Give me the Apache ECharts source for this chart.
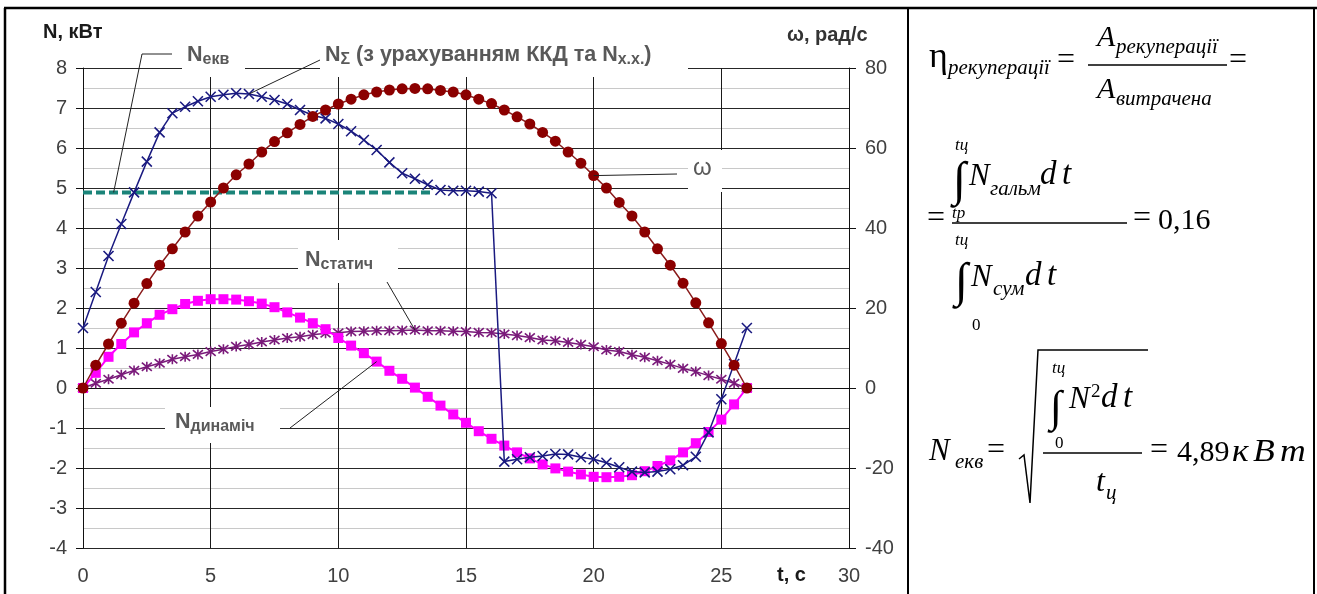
<!DOCTYPE html>
<html><head><meta charset="utf-8">
<script src="https://cdn.jsdelivr.net/npm/echarts@6/dist/echarts.min.js"></script>
<style>html,body{margin:0;padding:0;background:#fff;}#c{width:1317px;height:594px;}</style>
</head><body><div id="c"></div>
<script>
// ---- data ----
const tValues = [0,0.5,1,1.5,2,2.5,3,3.5,4,4.5,5,5.5,6,6.5,7,7.5,8,8.5,9,9.5,10,10.5,11,11.5,12,12.5,13,13.5,14,14.5,15,15.5,16,16.5,17,17.5,18,18.5,19,19.5,20,20.5,21,21.5,22,22.5,23,23.5,24,24.5,25,25.5,26];
const nSum = [1.5,2.4,3.3,4.1,4.89,5.66,6.39,6.87,7.03,7.17,7.28,7.33,7.37,7.35,7.28,7.2,7.1,6.95,6.82,6.74,6.6,6.42,6.2,5.95,5.64,5.37,5.23,5.08,4.95,4.93,4.93,4.91,4.87,-1.84,-1.78,-1.73,-1.7,-1.65,-1.66,-1.73,-1.78,-1.87,-1.98,-2.09,-2.11,-2.09,-2.03,-1.93,-1.72,-1.11,-0.28,0.6,1.5];
const omega = [0,5.7,11,16.2,21.2,26.1,30.7,34.8,39,43,46.5,50,53.3,56,59,61.6,63.8,65.9,67.9,69.5,71,72.2,73.3,74,74.5,74.8,74.9,74.8,74.4,74,73.3,72.2,71.1,69.5,67.8,66,63.9,61.7,59,56.2,53.1,50,46.4,43,39,34.8,30.7,26.2,21.3,16.3,11.1,5.7,0];
const nDyn = [0,0.38,0.78,1.1,1.39,1.62,1.83,1.97,2.1,2.18,2.22,2.22,2.21,2.17,2.11,2.02,1.89,1.76,1.62,1.47,1.25,1.06,0.87,0.66,0.43,0.23,0.01,-0.22,-0.44,-0.66,-0.87,-1.08,-1.27,-1.44,-1.61,-1.76,-1.91,-2.01,-2.09,-2.16,-2.22,-2.23,-2.22,-2.18,-2.08,-1.95,-1.81,-1.61,-1.38,-1.1,-0.79,-0.41,0];
const nStat = [0,0.12,0.22,0.33,0.44,0.53,0.62,0.72,0.78,0.84,0.91,0.97,1.04,1.09,1.15,1.2,1.25,1.28,1.33,1.37,1.38,1.41,1.42,1.43,1.43,1.44,1.45,1.43,1.43,1.42,1.41,1.39,1.38,1.35,1.31,1.26,1.2,1.18,1.14,1.09,1.03,0.95,0.91,0.83,0.77,0.68,0.59,0.49,0.41,0.31,0.22,0.12,0];
const nEkvValue = 4.89;
const nEkvT = [0, 13.7];
const xAxisRange = [0, 30, 5];
const leftAxisRange = [-4, 8, 1];
const rightAxisRange = [-40, 80, 20];

const SANS = 'Liberation Sans, Arial, sans-serif';
const SERIF = 'Liberation Serif, Times New Roman, serif';
const pairs = arr => tValues.map((t, i) => [t, arr[i]]);

const chart = echarts.init(document.getElementById('c'), null, {renderer: 'canvas'});

const xSym = 'path://M0,0L10,10M10,0L0,10';
const starSym = 'path://M0,0L10,10M10,0L0,10M5,-1L5,11';

chart.setOption({
  animation: false,
  backgroundColor: '#fff',
  grid: {left: 83, top: 68, width: 766, height: 480},
  xAxis: {
    type: 'value', min: xAxisRange[0], max: xAxisRange[1], interval: xAxisRange[2],
    axisLine: {show: true, lineStyle: {color: '#111', width: 1}},
    axisTick: {show: true, length: 8, lineStyle: {color: '#111'}},
    axisLabel: {fontSize: 20, color: '#404040', fontFamily: SANS, margin: 18},
    splitLine: {show: true, lineStyle: {color: '#1a1a1a', width: 1}}
  },
  yAxis: [{
    type: 'value', min: leftAxisRange[0], max: leftAxisRange[1], interval: leftAxisRange[2],
    axisLine: {show: true, onZero: false, lineStyle: {color: '#111', width: 1}},
    axisTick: {show: true, length: 7, lineStyle: {color: '#111'}},
    axisLabel: {fontSize: 20, color: '#404040', fontFamily: SANS, margin: 16},
    splitLine: {show: true, lineStyle: {color: '#262626', width: 1}},
    minorTick: {show: false, splitNumber: 2},
    minorSplitLine: {show: true, lineStyle: {color: '#c8c8c8', width: 1}}
  }, {
    type: 'value', position: 'right', min: rightAxisRange[0], max: rightAxisRange[1], interval: rightAxisRange[2],
    axisLine: {show: true, onZero: false, lineStyle: {color: '#111', width: 1}},
    axisTick: {show: true, length: 7, lineStyle: {color: '#111'}},
    axisLabel: {fontSize: 20, color: '#404040', fontFamily: SANS, margin: 16},
    splitLine: {show: false}
  }],
  series: [
    {name: 'Nекв', type: 'line', data: nEkvT.map(t => [t, nEkvValue]), symbol: 'none', z: 2,
     lineStyle: {color: '#1b8479', width: 4, type: [9, 4]}},
    {name: 'Nстатич', type: 'line', data: pairs(nStat), symbol: starSym, symbolSize: 10, showAllSymbol: true, z: 3,
     lineStyle: {color: '#7a1a7a', width: 1.5},
     itemStyle: {color: '#7a1a7a', borderColor: '#7a1a7a', borderWidth: 1.6}},
    {name: 'Nдинаміч', type: 'line', data: pairs(nDyn), symbol: 'rect', symbolSize: 10, showAllSymbol: true, z: 4,
     lineStyle: {color: '#ff00ff', width: 2},
     itemStyle: {color: '#ff00ff'}},
    {name: 'NΣ', type: 'line', data: pairs(nSum), symbol: xSym, symbolSize: 10, showAllSymbol: true, z: 5,
     lineStyle: {color: '#1a1a80', width: 1.5},
     itemStyle: {color: '#1a1a80', borderColor: '#1a1a80', borderWidth: 1.6}},
    {name: 'ω', type: 'line', yAxisIndex: 1, data: pairs(omega), symbol: 'circle', symbolSize: 11, showAllSymbol: true, z: 6,
     lineStyle: {color: '#8a1c1c', width: 1.5},
     itemStyle: {color: '#8b0000'}}
  ]
});

function px(t, v, axis) { return chart.convertToPixel({xAxisIndex: 0, yAxisIndex: axis || 0}, [t, v]); }
function idx(t) { return tValues.indexOf(t); }

function T(x, base, s, size, o) {
  o = o || {};
  const el = {type: 'text', x: x, y: base - 0.34 * size, z: 20,
    style: {text: s, fontSize: size, fontFamily: o.ff || SERIF, fontStyle: o.it ? 'italic' : 'normal',
      fontWeight: o.b ? 'bold' : 'normal', fill: o.c || '#000', align: o.al || 'left', verticalAlign: 'middle'}};
  if (o.sx) { el.scaleX = o.sx; }
  return el;
}
function L(x1, y1, x2, y2, w, c) {
  return {type: 'line', z: 20, shape: {x1, y1, x2, y2}, style: {stroke: c || '#000', lineWidth: w || 1}};
}
function P(points, w, c, z) {
  return {type: 'polyline', z: z || 20, shape: {points}, style: {stroke: c || '#000', fill: null, lineWidth: w || 1}};
}
function R(x, y, w, h) {
  return {type: 'rect', z: 1, shape: {x, y, width: w, height: h}, style: {fill: '#fff'}};
}
const LBL = '#595959';
function lab(x, y, parts) {
  let text = parts.map(p => p[1] ? '{s|' + p[0] + '}' : '{n|' + p[0] + '}').join('');
  return {type: 'text', x: x, y: y, z: 20, style: {text: text, align: 'left', verticalAlign: 'middle',
    rich: {
      n: {fontSize: 21.5, fontWeight: 'bold', fontFamily: SANS, fill: LBL, lineHeight: 26, verticalAlign: 'middle'},
      s: {fontSize: 16, fontWeight: 'bold', fontFamily: SANS, fill: LBL, lineHeight: 12, verticalAlign: 'bottom'}
    }}};
}

const pEkv = px(1.2, nEkvValue);
const pSum = px(6.5, nSum[idx(6.5)]);
const pOm = px(20, omega[idx(20)], 1);
const pSt = px(13, nStat[idx(13)]);
const pDyn = px(11.5, nDyn[idx(11.5)]);

const g = [
  // white label boxes that break the grid
  R(182, 44, 63, 33), R(320, 40, 368, 37), R(688, 150, 34, 42), R(298, 240, 100, 43), R(165, 407, 115, 36),
  // series labels
  lab(187, 55, [['N'], ['екв', 1]]),
  lab(325, 55, [['N'], ['Σ', 1], [' (з урахуванням ККД та N'], ['х.х.', 1], [')']]),
  {type: 'text', x: 693, y: 168, z: 20, style: {text: 'ω', fontSize: 24, fontFamily: SANS, fill: LBL, align: 'left', verticalAlign: 'middle'}},
  lab(305, 260, [['N'], ['статич', 1]]),
  lab(175, 422, [['N'], ['динаміч', 1]]),
  // leader lines
  P([[172, 54], [142, 54], pEkv], 1, '#222'),
  P([[320, 60], pSum], 1, '#222'),
  P([[677, 174], pOm], 1, '#222'),
  P([[387, 282], pSt], 1, '#222'),
  P([[290, 428], pDyn], 1, '#222'),
  // axis titles
  T(43, 39, 'N, кВт', 20, {ff: SANS, b: true, c: '#1a1a1a'}),
  T(787, 42, 'ω, рад/с', 20, {ff: SANS, b: true, c: '#333'}),
  T(777, 582, 't, с', 20, {ff: SANS, b: true, c: '#1a1a1a'}),
  // frame
  L(4, 8, 1317, 8, 2.5), L(5, 8, 5, 594, 2.5), L(908, 8, 908, 594, 2), L(1314, 8, 1314, 594, 2),
  // formula 1
  T(929, 70, 'η', 36),
  T(948, 76, 'рекуперації', 21, {it: true}),
  T(1057, 71, '=', 32),
  T(1097, 48, 'A', 30, {it: true}),
  T(1116, 55, 'рекуперації', 21, {it: true}),
  L(1088, 65, 1227, 65, 1.3),
  T(1097, 100, 'A', 30, {it: true}),
  T(1116, 107, 'витрачена', 21, {it: true}),
  T(1229, 71, '=', 32),
  // formula 2
  T(955, 151, 'tц', 17, {it: true}),
  T(953, 199, '∫', 48),
  T(969, 187, 'N', 31, {it: true}),
  T(990, 197, 'гальм', 21, {it: true}),
  T(1040, 187, 'd', 33, {it: true}),
  T(1062, 187, 't', 33, {it: true}),
  T(927, 229, '=', 32),
  T(952, 219, 'tp', 17, {it: true}),
  L(952, 223, 1127, 223, 1.3),
  T(1133, 229, '=', 32),
  T(1158, 231, '0,16', 30),
  T(955, 246, 'tц', 17, {it: true}),
  T(955, 300, '∫', 48),
  T(971, 288, 'N', 31, {it: true}),
  T(993, 297, 'сум', 21, {it: true}),
  T(1025, 288, 'd', 33, {it: true}),
  T(1047, 288, 't', 33, {it: true}),
  T(972, 331, '0', 17),
  // formula 3
  T(929, 462, 'N', 31, {it: true}),
  T(955, 470, 'екв', 21, {it: true}),
  T(987, 461, '=', 32),
  P([[1019, 459], [1024, 455], [1030, 503], [1038, 350], [1148, 350]], 1.5, '#000'),
  T(1052, 374, 'tц', 17, {it: true}),
  T(1050, 424, '∫', 44),
  T(1069, 410, 'N', 31, {it: true}),
  T(1091, 398, '2', 19),
  T(1101, 410, 'd', 33, {it: true}),
  T(1123, 410, 't', 33, {it: true}),
  T(1055, 449, '0', 17),
  L(1043, 453, 1142, 453, 1.3),
  T(1096, 493, 't', 32, {it: true}),
  T(1106, 501, 'ц', 21, {it: true}),
  T(1150, 461, '=', 32),
  T(1177, 463, '4,89', 30),
  T(1232, 463, 'к', 31, {it: true, sx: 1.15}),
  T(1253, 463, 'В', 31, {it: true, sx: 1.15}),
  T(1280, 463, 'т', 31, {it: true, sx: 1.15})
];
chart.setOption({graphic: {elements: g}});
</script></body></html>
